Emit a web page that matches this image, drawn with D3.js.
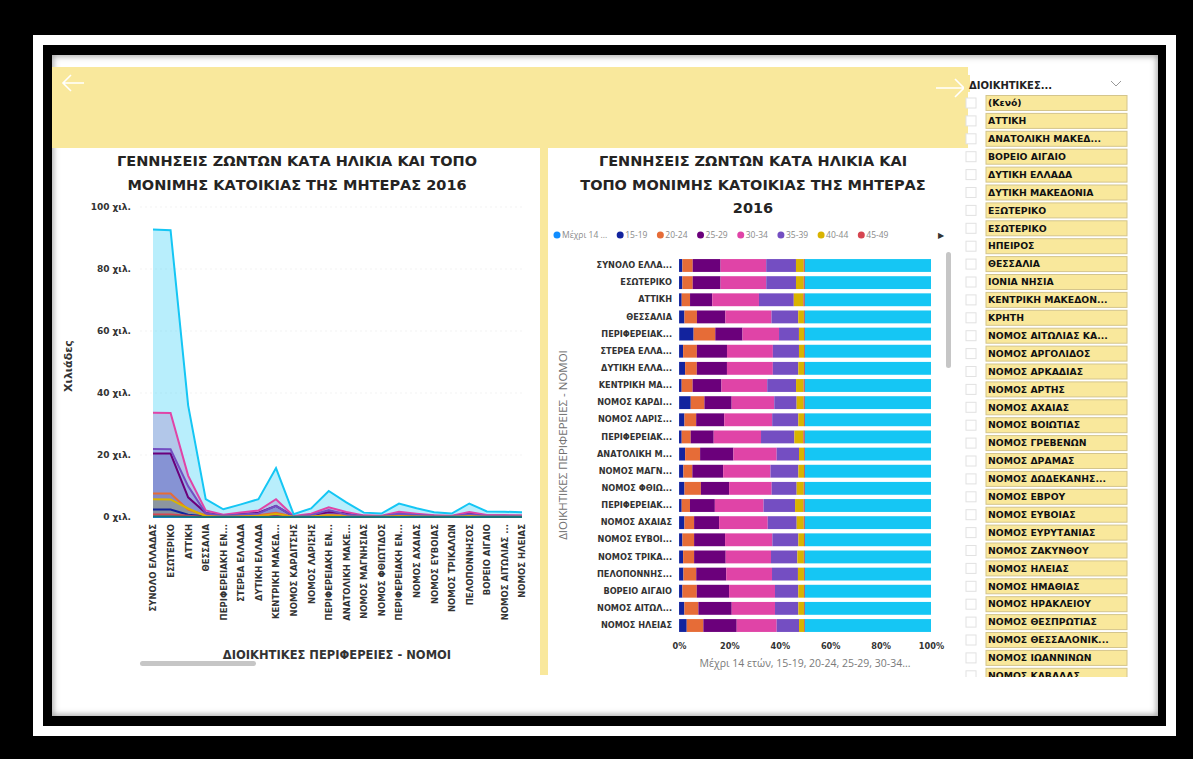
<!DOCTYPE html>
<html>
<head>
<meta charset="utf-8">
<script src="https://cdn.jsdelivr.net/npm/d3@7"></script>
<style>
	body { margin: 0; background: #000; }
	svg { display: block; }
</style>
</head>
<body>
<div id="my_dataviz"></div>
<script>
// ---- data ----
const lineLabels = [ 'ΣΥΝΟΛΟ ΕΛΛΑΔΑΣ', 'ΕΣΩΤΕΡΙΚΟ', 'ΑΤΤΙΚΗ', 'ΘΕΣΣΑΛΙΑ', 'ΠΕΡΙΦΕΡΕΙΑΚΗ ΕΝ...', 'ΣΤΕΡΕΑ ΕΛΛΑΔΑ',
	'ΔΥΤΙΚΗ ΕΛΛΑΔΑ', 'ΚΕΝΤΡΙΚΗ ΜΑΚΕΔ...', 'ΝΟΜΟΣ ΚΑΡΔΙΤΣΗΣ', 'ΝΟΜΟΣ ΛΑΡΙΣΗΣ', 'ΠΕΡΙΦΕΡΕΙΑΚΗ ΕΝ...',
	'ΑΝΑΤΟΛΙΚΗ ΜΑΚΕ...', 'ΝΟΜΟΣ ΜΑΓΝΗΣΙΑΣ', 'ΝΟΜΟΣ ΦΘΙΩΤΙΔΟΣ', 'ΠΕΡΙΦΕΡΕΙΑΚΗ ΕΝ...', 'ΝΟΜΟΣ ΑΧΑΙΑΣ',
	'ΝΟΜΟΣ ΕΥΒΟΙΑΣ', 'ΝΟΜΟΣ ΤΡΙΚΑΛΩΝ', 'ΠΕΛΟΠΟΝΝΗΣΟΣ', 'ΒΟΡΕΙΟ ΑΙΓΑΙΟ', 'ΝΟΜΟΣ ΑΙΤΩΛΙΑΣ ...', 'ΝΟΜΟΣ ΗΛΕΙΑΣ' ];
const barLabels = [ 'ΣΥΝΟΛΟ ΕΛΛΑ...', 'ΕΣΩΤΕΡΙΚΟ', 'ΑΤΤΙΚΗ', 'ΘΕΣΣΑΛΙΑ', 'ΠΕΡΙΦΕΡΕΙΑΚ...', 'ΣΤΕΡΕΑ ΕΛΛΑ...',
	'ΔΥΤΙΚΗ ΕΛΛΑ...', 'ΚΕΝΤΡΙΚΗ ΜΑ...', 'ΝΟΜΟΣ ΚΑΡΔΙ...', 'ΝΟΜΟΣ ΛΑΡΙΣ...', 'ΠΕΡΙΦΕΡΕΙΑΚ...', 'ΑΝΑΤΟΛΙΚΗ Μ...',
	'ΝΟΜΟΣ ΜΑΓΝ...', 'ΝΟΜΟΣ ΦΘΙΩ...', 'ΠΕΡΙΦΕΡΕΙΑΚ...', 'ΝΟΜΟΣ ΑΧΑΙΑΣ', 'ΝΟΜΟΣ ΕΥΒΟΙ...', 'ΝΟΜΟΣ ΤΡΙΚΑ...',
	'ΠΕΛΟΠΟΝΝΗΣ...', 'ΒΟΡΕΙΟ ΑΙΓΑΙΟ', 'ΝΟΜΟΣ ΑΙΤΩΛ...', 'ΝΟΜΟΣ ΗΛΕΙΑΣ' ];

// births by age group of the mother
const upTo14  = [ 40, 40, 15, 5, 5, 3, 5, 5, 1, 2, 2, 5, 1, 1, 2, 2, 1, 1, 3, 1, 1, 1 ];
const age1519 = [ 2450, 2440, 760, 245, 285, 130, 275, 330, 83, 119, 178, 224, 48, 47, 91, 119, 40, 35, 151, 48, 72, 91 ];
const age2024 = [ 7600, 7580, 2380, 570, 430, 445, 535, 1370, 98, 259, 600, 559, 100, 143, 284, 215, 139, 96, 442, 205, 189, 198 ];
const age2529 = [ 20500, 20450, 6350, 1300, 540, 975, 1380, 3610, 195, 622, 1533, 1243, 344, 247, 853, 556, 369, 276, 1036, 462, 450, 397 ];
const age3034 = [ 33600, 33550, 13350, 2110, 725, 1485, 2100, 5730, 305, 1060, 3156, 1616, 529, 372, 1672, 1082, 564, 396, 1583, 657, 585, 476 ];
const age3539 = [ 21900, 21850, 9950, 1220, 395, 845, 1165, 3610, 160, 578, 2222, 833, 311, 218, 1081, 644, 310, 230, 896, 333, 315, 266 ];
const age4044 = [ 5700, 5680, 2750, 260, 100, 165, 260, 950, 50, 125, 600, 190, 63, 62, 290, 157, 67, 57, 207, 81, 76, 60 ];
const age4549 = [ 800, 790, 380, 40, 15, 25, 40, 140, 8, 19, 90, 28, 9, 9, 42, 23, 10, 8, 30, 12, 11, 9 ];
const age50up = [ 150, 150, 80, 10, 5, 5, 7, 30, 2, 4, 20, 6, 2, 2, 9, 5, 2, 2, 7, 3, 3, 2 ];
const total   = [ 92740, 92530, 36015, 5760, 2500, 4078, 5767, 15775, 902, 2788, 8401, 4704, 1407, 1101, 4324, 2803, 1502, 1101, 4355, 1802, 1702, 1500 ];

const seriesNames = [ 'Μέχρι 14 ...', '15-19', '20-24', '25-29', '30-34', '35-39', '40-44', '45-49', '50+', 'Σύνολο' ];
const seriesValues = [ upTo14, age1519, age2024, age2529, age3034, age3539, age4044, age4549, age50up, total ];
const seriesColors = [ '#118DFF', '#12239E', '#E66C37', '#6B007B', '#E044A7', '#744EC2', '#D9B300', '#D64550', '#197278', '#15C6F4' ];

const yTicks = [ 0, 20000, 40000, 60000, 80000, 100000 ];
const pctTicks = [ 0, 0.2, 0.4, 0.6, 0.8, 1 ];

const slicerItems = [ '(Κενό)', 'ΑΤΤΙΚΗ', 'ΑΝΑΤΟΛΙΚΗ ΜΑΚΕΔ...', 'ΒΟΡΕΙΟ ΑΙΓΑΙΟ', 'ΔΥΤΙΚΗ ΕΛΛΑΔΑ', 'ΔΥΤΙΚΗ ΜΑΚΕΔΟΝΙΑ',
	'ΕΞΩΤΕΡΙΚΟ', 'ΕΣΩΤΕΡΙΚΟ', 'ΗΠΕΙΡΟΣ', 'ΘΕΣΣΑΛΙΑ', 'ΙΟΝΙΑ ΝΗΣΙΑ', 'ΚΕΝΤΡΙΚΗ ΜΑΚΕΔΟΝ...', 'ΚΡΗΤΗ',
	'ΝΟΜΟΣ ΑΙΤΩΛΙΑΣ ΚΑ...', 'ΝΟΜΟΣ ΑΡΓΟΛΙΔΟΣ', 'ΝΟΜΟΣ ΑΡΚΑΔΙΑΣ', 'ΝΟΜΟΣ ΑΡΤΗΣ', 'ΝΟΜΟΣ ΑΧΑΙΑΣ', 'ΝΟΜΟΣ ΒΟΙΩΤΙΑΣ',
	'ΝΟΜΟΣ ΓΡΕΒΕΝΩΝ', 'ΝΟΜΟΣ ΔΡΑΜΑΣ', 'ΝΟΜΟΣ ΔΩΔΕΚΑΝΗΣ...', 'ΝΟΜΟΣ ΕΒΡΟΥ', 'ΝΟΜΟΣ ΕΥΒΟΙΑΣ', 'ΝΟΜΟΣ ΕΥΡΥΤΑΝΙΑΣ',
	'ΝΟΜΟΣ ΖΑΚΥΝΘΟΥ', 'ΝΟΜΟΣ ΗΛΕΙΑΣ', 'ΝΟΜΟΣ ΗΜΑΘΙΑΣ', 'ΝΟΜΟΣ ΗΡΑΚΛΕΙΟΥ', 'ΝΟΜΟΣ ΘΕΣΠΡΩΤΙΑΣ', 'ΝΟΜΟΣ ΘΕΣΣΑΛΟΝΙΚ...',
	'ΝΟΜΟΣ ΙΩΑΝΝΙΝΩΝ', 'ΝΟΜΟΣ ΚΑΒΑΛΑΣ' ];

// ---- page ----
const W = 1193, H = 759;
const yellow = '#f9e89c';
const boldFont = 'DejaVu Sans, sans-serif';
const lightFont = 'Open Sans, sans-serif';

const svg = d3.select('#my_dataviz').append('svg').attr('width', W).attr('height', H);
const defs = svg.append('defs');

defs.append('filter').attr('id', 'blur').append('feGaussianBlur').attr('stdDeviation', 3);
defs.append('clipPath').attr('id', 'content-clip')
	.append('rect').attr('x', 52).attr('y', 55).attr('width', 1106).attr('height', 661);
defs.append('clipPath').attr('id', 'slicer-clip')
	.append('rect').attr('x', 960).attr('y', 92).attr('width', 180).attr('height', 585);

// frame
svg.append('rect').attr('width', W).attr('height', H).attr('fill', '#000');
svg.append('rect').attr('x', 33).attr('y', 35).attr('width', 1143).attr('height', 701).attr('fill', '#fff');
svg.append('rect').attr('x', 43).attr('y', 45).attr('width', 1123).attr('height', 681).attr('fill', '#000');
svg.append('rect').attr('x', 52).attr('y', 55).attr('width', 1106).attr('height', 661).attr('fill', '#fff');
svg.append('g').attr('clip-path', 'url(#content-clip)')
	.append('rect').attr('x', 50).attr('y', 53).attr('width', 1110).attr('height', 665)
	.attr('fill', 'none').attr('stroke', '#9a9a9a').attr('stroke-width', 6).attr('filter', 'url(#blur)');

// banner + divider strip
svg.append('rect').attr('x', 52).attr('y', 67).attr('width', 916).attr('height', 81).attr('fill', yellow);
svg.append('rect').attr('x', 540).attr('y', 148).attr('width', 8).attr('height', 527).attr('fill', yellow);
svg.append('path').attr('d', 'M84,83 H63 M71,75 L63,83 L71,91').attr('fill', 'none').attr('stroke', '#fff').attr('stroke-width', 1.6);
svg.append('path').attr('d', 'M936,88 H964 M955,79 L964,88 L955,97').attr('fill', 'none').attr('stroke', '#fff').attr('stroke-width', 1.6);

// ---- left chart: overlapping areas ----
const rows = lineLabels.map((d, i) => i);
const x = d3.scalePoint().domain(rows).range([ 153, 522 ]);
const y = d3.scaleLinear().domain([ 0, 100000 ]).range([ 517, 207 ]);

const left = svg.append('g');

left.append('text').attr('x', 297).attr('y', 166).attr('text-anchor', 'middle')
	.attr('font-family', boldFont).attr('font-weight', 'bold').attr('font-size', 14.5).attr('fill', '#252423')
	.text('ΓΕΝΝΗΣΕΙΣ ΖΩΝΤΩΝ ΚΑΤΑ ΗΛΙΚΙΑ ΚΑΙ ΤΟΠΟ');
left.append('text').attr('x', 297).attr('y', 190).attr('text-anchor', 'middle')
	.attr('font-family', boldFont).attr('font-weight', 'bold').attr('font-size', 14.5).attr('fill', '#252423')
	.text('ΜΟΝΙΜΗΣ ΚΑΤΟΙΚΙΑΣ ΤΗΣ ΜΗΤΕΡΑΣ 2016');

left.append('g').selectAll('line').data(yTicks.slice(1)).enter().append('line')
	.attr('x1', 140).attr('x2', 525).attr('y1', d => y(d)).attr('y2', d => y(d))
	.attr('stroke', '#f3f3f3').attr('stroke-dasharray', '2,3');

const yAxis = left.append('g').attr('transform', 'translate(133,0)')
	.call(d3.axisLeft(y).tickValues(yTicks).tickSize(0).tickPadding(2).tickFormat(d => d / 1000 + ' χιλ.'));
yAxis.select('.domain').remove();
yAxis.selectAll('text').attr('font-family', boldFont).attr('font-weight', 'bold').attr('font-size', 9).attr('fill', '#333');

left.append('text').attr('transform', 'translate(72,366) rotate(-90)').attr('text-anchor', 'middle')
	.attr('font-family', boldFont).attr('font-weight', 'bold').attr('font-size', 11).attr('fill', '#333').text('Χιλιάδες');

// translucent areas in legend order (Σύνολο ends on top), then the lines above them
const area = d3.area().x((d, i) => x(i)).y0(y(0)).y1(d => y(d));
const line = d3.line().x((d, i) => x(i)).y(d => y(d));

seriesValues.forEach(function(vals, s) {
	left.append('path').datum(vals).attr('d', area)
		.attr('fill', seriesColors[s]).attr('fill-opacity', 0.3);
});
seriesValues.forEach(function(vals, s) {
	left.append('path').datum(vals).attr('d', line)
		.attr('fill', 'none').attr('stroke', seriesColors[s]).attr('stroke-width', 2);
});

const xAxis = left.append('g').attr('transform', 'translate(0,517)')
	.call(d3.axisBottom(x).tickSize(0).tickFormat(i => lineLabels[i]));
xAxis.select('.domain').remove();
xAxis.selectAll('text')
	.attr('transform', 'rotate(-90)').attr('x', -7).attr('y', 0).attr('dy', '0.35em').style('text-anchor', 'end')
	.attr('font-family', boldFont).attr('font-weight', 'bold').attr('font-size', 8.5).attr('fill', '#333');

left.append('text').attr('x', 337).attr('y', 659).attr('text-anchor', 'middle')
	.attr('font-family', boldFont).attr('font-weight', 'bold').attr('font-size', 11.5).attr('fill', '#333')
	.text('ΔΙΟΙΚΗΤΙΚΕΣ ΠΕΡΙΦΕΡΕΙΕΣ - ΝΟΜΟΙ');
left.append('rect').attr('x', 140).attr('y', 661).attr('width', 116).attr('height', 5).attr('rx', 2.5).attr('fill', '#c6c6c6');

// ---- right chart: 100% stacked bars ----
const stackRows = rows.map(i => {
	const r = { idx: i };
	seriesNames.forEach((s, k) => (r[s] = seriesValues[k][i]));
	return r;
});
const stacked = d3.stack().keys(seriesNames).offset(d3.stackOffsetExpand)(stackRows);

const xp = d3.scaleLinear().domain([ 0, 1 ]).range([ 679, 931 ]);
const yb = d3.scaleBand().domain(rows).range([ 257, 634 ]).paddingInner(0.25).paddingOuter(0.12);

const right = svg.append('g');
[ 'ΓΕΝΝΗΣΕΙΣ ΖΩΝΤΩΝ ΚΑΤΑ ΗΛΙΚΙΑ ΚΑΙ', 'ΤΟΠΟ ΜΟΝΙΜΗΣ ΚΑΤΟΙΚΙΑΣ ΤΗΣ ΜΗΤΕΡΑΣ', '2016' ].forEach(function(t, i) {
	right.append('text').attr('x', 753).attr('y', 166 + i * 23.5).attr('text-anchor', 'middle')
		.attr('font-family', boldFont).attr('font-weight', 'bold').attr('font-size', 14.5).attr('fill', '#252423').text(t);
});

// legend
const legend = right.append('g').attr('transform', 'translate(553,235)');
let lx = 0;
seriesNames.slice(0, 8).forEach(function(s, k) {
	const item = legend.append('g').attr('transform', `translate(${lx},0)`);
	item.append('circle').attr('cx', 4).attr('cy', 0).attr('r', 3.5).attr('fill', seriesColors[k]);
	const t = item.append('text').attr('x', 9).attr('y', 0).attr('dy', '0.35em')
		.attr('font-family', lightFont).attr('font-size', 8.5).attr('fill', '#8a8a8a').text(s);
	lx += 9 + t.node().getComputedTextLength() + 9;
});
right.append('text').attr('x', 941).attr('y', 235).attr('dy', '0.35em').attr('text-anchor', 'middle')
	.attr('font-size', 8).attr('fill', '#333').text('▶');

right.append('g').selectAll('g').data(stacked).enter().append('g')
	.attr('fill', (d, k) => seriesColors[k])
	.selectAll('rect').data(d => d).enter().append('rect')
	.attr('x', d => xp(d[0])).attr('width', d => Math.max(0, xp(d[1]) - xp(d[0])))
	.attr('y', d => yb(d.data.idx)).attr('height', yb.bandwidth());

const yAxisR = right.append('g').attr('transform', 'translate(674,0)')
	.call(d3.axisLeft(yb).tickSize(0).tickPadding(2).tickFormat(i => barLabels[i]));
yAxisR.select('.domain').remove();
yAxisR.selectAll('text').attr('font-family', boldFont).attr('font-weight', 'bold').attr('font-size', 8.2).attr('fill', '#333');

const xAxisR = right.append('g').attr('transform', 'translate(0,640)')
	.call(d3.axisBottom(xp).tickValues(pctTicks).tickSize(0).tickPadding(3).tickFormat(d3.format('.0%')));
xAxisR.select('.domain').remove();
xAxisR.selectAll('text').attr('font-family', boldFont).attr('font-weight', 'bold').attr('font-size', 8.2).attr('fill', '#333');

right.append('text').attr('x', 805).attr('y', 667).attr('text-anchor', 'middle')
	.attr('font-family', lightFont).attr('font-size', 10.5).attr('fill', '#7a7a7a')
	.text('Μέχρι 14 ετών, 15-19, 20-24, 25-29, 30-34...');
right.append('text').attr('transform', 'translate(567,445) rotate(-90)').attr('text-anchor', 'middle')
	.attr('font-family', lightFont).attr('font-size', 11.5).attr('fill', '#707070')
	.text('ΔΙΟΙΚΗΤΙΚΕΣ ΠΕΡΙΦΕΡΕΙΕΣ - ΝΟΜΟΙ');
right.append('rect').attr('x', 946).attr('y', 252).attr('width', 5).attr('height', 116).attr('rx', 2.5).attr('fill', '#c6c6c6');

// ---- slicer ----
const slicer = svg.append('g');
slicer.append('rect').attr('x', 964).attr('y', 75).attr('width', 6).attr('height', 17).attr('fill', yellow);
slicer.append('text').attr('x', 969).attr('y', 89)
	.attr('font-family', boldFont).attr('font-weight', 'bold').attr('font-size', 10).attr('fill', '#222').text('ΔΙΟΙΚΗΤΙΚΕΣ...');
slicer.append('path').attr('d', 'M1111,81 L1116,86 L1121,81').attr('fill', 'none').attr('stroke', '#999').attr('stroke-width', 1);

const items = slicer.append('g').attr('clip-path', 'url(#slicer-clip)')
	.selectAll('g').data(slicerItems).enter().append('g')
	.attr('transform', (d, i) => `translate(0,${103 + i * 17.9})`);
items.append('rect').attr('x', 966).attr('y', -5).attr('width', 10).attr('height', 10)
	.attr('fill', '#fff').attr('stroke', '#e2e2e2');
items.append('rect').attr('x', 986).attr('y', -7.5).attr('width', 141).attr('height', 15)
	.attr('fill', yellow).attr('stroke', '#d4c58c').attr('stroke-width', 1);
items.append('text').attr('x', 988).attr('y', 0).attr('dy', '0.35em')
	.attr('font-family', boldFont).attr('font-weight', 'bold').attr('font-size', 9.3).attr('fill', '#111')
	.text(d => d);
</script>
</body>
</html>
